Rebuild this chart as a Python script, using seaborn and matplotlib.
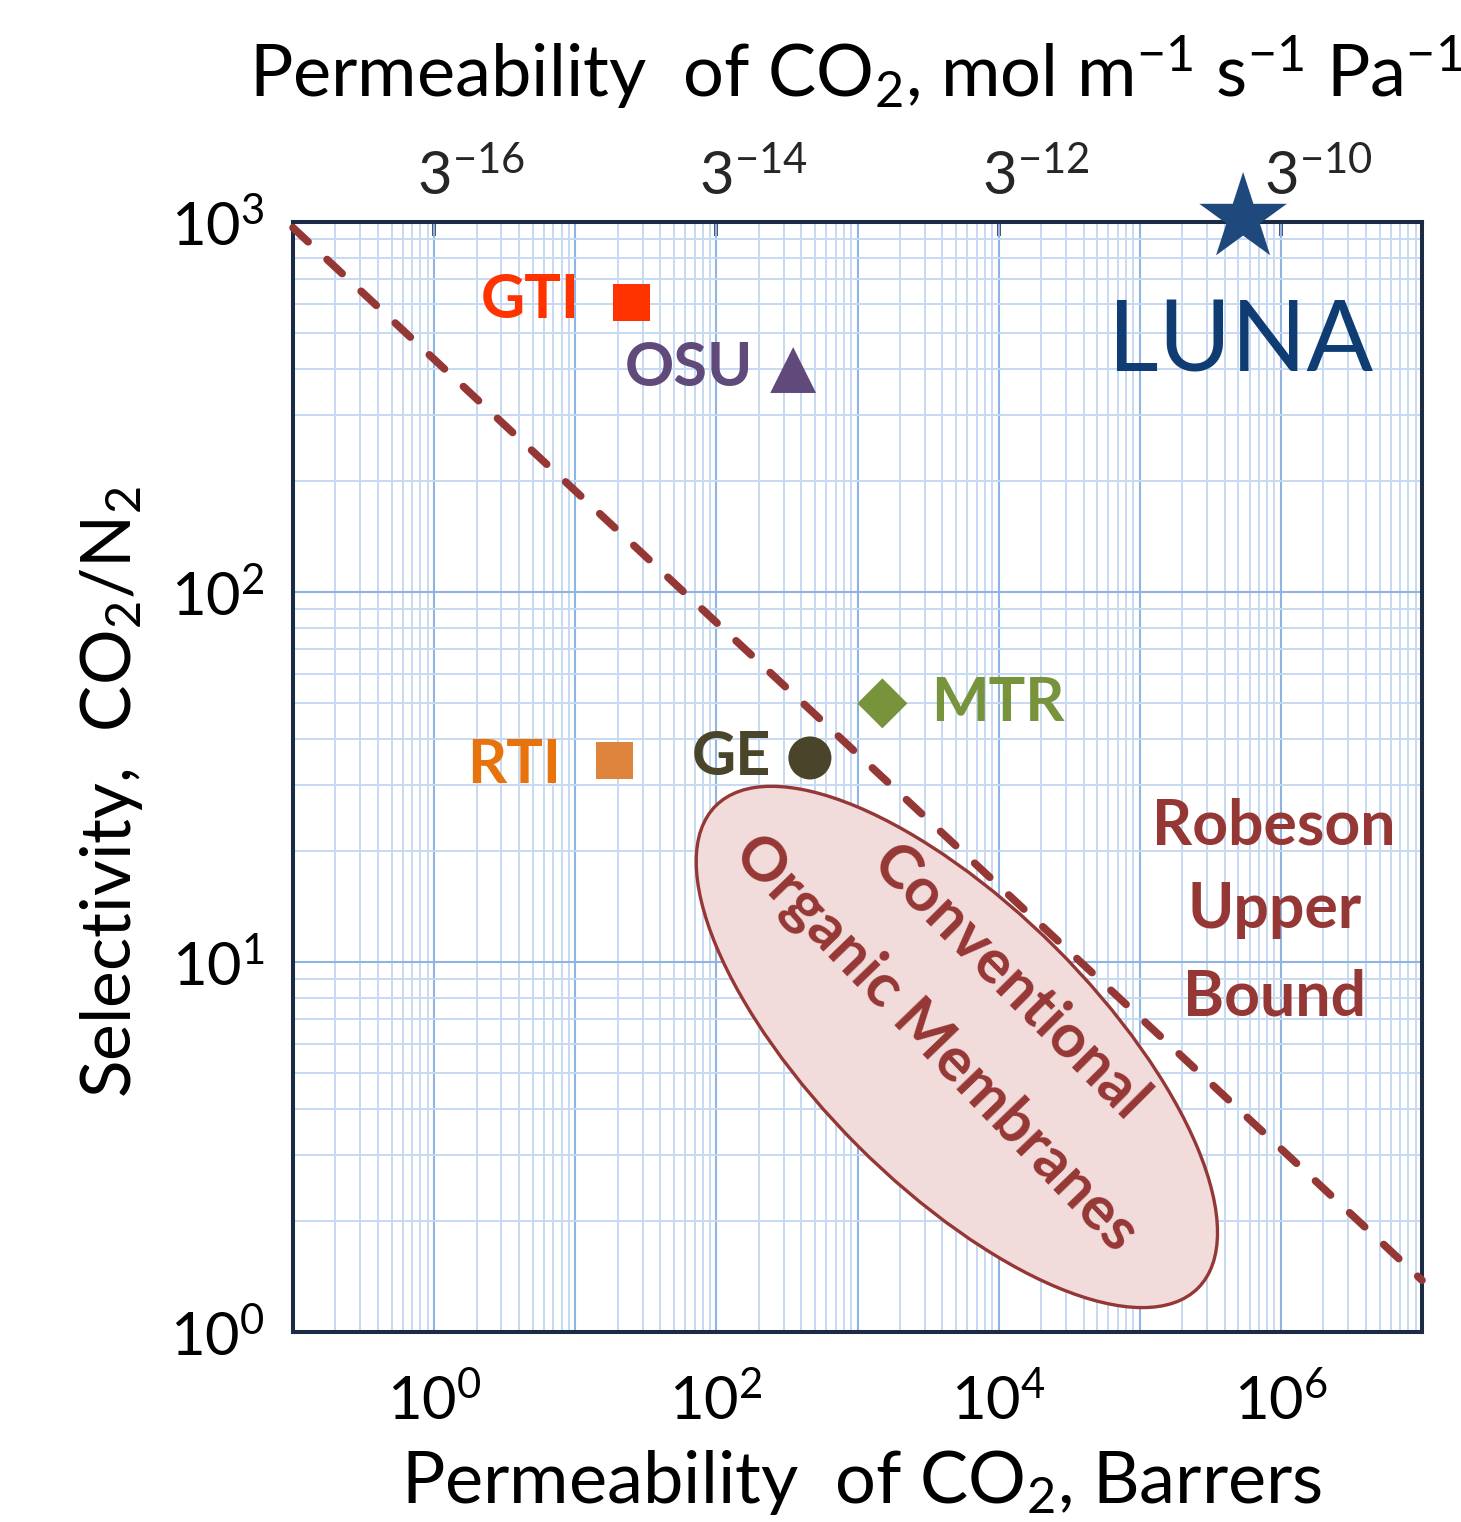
import matplotlib

matplotlib.use("Agg")
import matplotlib.pyplot as plt
import matplotlib.ticker as mticker
import matplotlib.transforms as mtransforms
import pandas as pd
import seaborn as sns
from matplotlib.patches import Ellipse

# membrane data points (CO2 permeability in Barrers, CO2/N2 selectivity)
groups = ["GTI", "OSU", "MTR", "RTI", "GE", "LUNA"]
perm_barrer = [25, 350, 1500, 19, 460, 5.4e5]
selectivity = [605, 398, 50, 35, 35.6, 1025]

# Robeson upper bound, end points of the dashed line
robeson_perm = [0.1, 1e7]
robeson_sel = [965, 1.38]

bottom_ticks = [1e-1, 1e0, 1e1, 1e2, 1e3, 1e4, 1e5, 1e6, 1e7]
bottom_labels = ["", "$10^{0}$", "", "$10^{2}$", "", "$10^{4}$", "", "$10^{6}$", ""]
top_ticks = [1e0, 1e2, 1e4, 1e6]
top_labels = ["3$^{-16}$", "3$^{-14}$", "3$^{-12}$", "3$^{-10}$"]
left_ticks = [1, 10, 100, 1000]
left_labels = ["$10^{0}$", "$10^{1}$", "$10^{2}$", "$10^{3}$"]

marker_colors = {"GTI": "#FF3300", "OSU": "#604A7B", "MTR": "#77933C",
                 "RTI": "#DE843C", "GE": "#4A452A", "LUNA": "#1F497D"}
text_colors = {"GTI": "#FF3300", "OSU": "#604A7B", "MTR": "#77933C",
               "RTI": "#E8720C", "GE": "#4A452A"}
marker_shapes = {"GTI": "s", "OSU": "^", "MTR": "D", "RTI": "s", "GE": "o", "LUNA": "*"}
marker_sizes = {"GTI": 710, "OSU": 1090, "MTR": 650, "RTI": 710, "GE": 960, "LUNA": 4400}
# label offsets from the marker centre, in pixels (dx, dy, ha)
label_offsets = {"GTI": (-52, 3, "right"), "OSU": (-40, 2, "right"), "MTR": (49, 0, "left"),
                 "RTI": (-53, -4, "right"), "GE": (-39, 1, "right")}

ROB = "#953735"
NAVY = "#1C2B45"

sns.set_theme(style="white")
plt.rcParams["font.family"] = ["Lato", "DejaVu Sans"]
plt.rcParams["mathtext.fontset"] = "custom"
plt.rcParams["mathtext.rm"] = "Lato"
plt.rcParams["mathtext.default"] = "regular"

df = pd.DataFrame({"group": groups, "perm": perm_barrer, "sel": selectivity})

fig = plt.figure(figsize=(14.61, 15.22), dpi=100)
ax = fig.add_axes([293 / 1461, 190 / 1522, 1129 / 1461, 1110 / 1522])
ax.set_xscale("log")
ax.set_yscale("log")

# conventional membranes region
ell_pos = mtransforms.ScaledTranslation(0.588, 0.2568, ax.transAxes)
region = Ellipse((0, 0), 6.82, 2.80, angle=-45, transform=fig.dpi_scale_trans + ell_pos,
                 facecolor="#F2DCDB", edgecolor=ROB, lw=2.4, zorder=2)
ax.add_patch(region)
ax.text(0.635, 0.3144, "Conventional", transform=ax.transAxes, rotation=-45,
        rotation_mode="anchor", ha="center", va="center", fontsize=44,
        fontweight="bold", color=ROB, zorder=3)
ax.text(0.5695, 0.2604, "Organic Membranes", transform=ax.transAxes, rotation=-46,
        rotation_mode="anchor", ha="center", va="center", fontsize=44,
        fontweight="bold", color=ROB, zorder=3)

ax.plot(robeson_perm, robeson_sel, color=ROB, lw=5.5, ls=(0, (2.7, 3.4)), zorder=4,
        dash_capstyle="round", clip_on=False)

sns.scatterplot(data=df, x="perm", y="sel", hue="group", style="group", size="group",
                palette=marker_colors, markers=marker_shapes, sizes=marker_sizes,
                linewidth=0, legend=False, ax=ax, zorder=5, clip_on=False)
ax.set_xlabel("")
ax.set_ylabel("")
ax.set_xlim(0.102, 1e7)
ax.set_ylim(1, 1000)

for name, x, y in zip(groups, perm_barrer, selectivity):
    if name not in label_offsets:
        continue
    dx, dy, ha = label_offsets[name]
    ax.annotate(name, (x, y), xytext=(dx, dy), textcoords="offset pixels", ha=ha,
                va="center", fontsize=44, fontweight="bold", color=text_colors[name], zorder=6)

for frac, word in zip([0.4396, 0.364, 0.2847], ["Robeson", "Upper", "Bound"]):
    ax.text(0.869, frac, word, transform=ax.transAxes, ha="center", va="baseline",
            fontsize=45, fontweight="bold", color=ROB)

ax.text(0.8397, 0.8649, "LUNA", transform=ax.transAxes, ha="center", va="baseline",
        fontsize=71, fontweight="normal", color="#0F3D73")

ax.set_axisbelow(True)
ax.xaxis.set_minor_locator(mticker.LogLocator(base=10, subs=range(2, 10), numticks=100))
ax.yaxis.set_minor_locator(mticker.LogLocator(base=10, subs=range(2, 10), numticks=100))
ax.grid(True, which="major", color="#8DB4E2", lw=1.5)
ax.grid(True, which="minor", color="#C6D9F1", lw=1.4)

for side in ["left", "right", "top", "bottom"]:
    ax.spines[side].set_color(NAVY)
    ax.spines[side].set_linewidth(2.9)

ax.set_xticks(bottom_ticks, bottom_labels)
ax.set_yticks(left_ticks, left_labels)
ax.tick_params(which="major", direction="in", length=10, width=2.6, color=NAVY,
               labelsize=43, labelcolor="black", top=False, right=False)
ax.tick_params(axis="x", pad=29)
ax.tick_params(axis="y", pad=20)
ax.tick_params(which="minor", length=0)

top = ax.secondary_xaxis("top")
top.set_xticks(top_ticks, top_labels)
top.tick_params(direction="in", length=10, width=2.6, color=NAVY, labelsize=43, pad=12)
top.spines["top"].set_visible(False)
shift = mtransforms.ScaledTranslation(-17 / 100, 0, fig.dpi_scale_trans)
for lbl in top.get_xticklabels():
    lbl.set_horizontalalignment("left")
    lbl.set_transform(lbl.get_transform() + shift)
top.minorticks_off()

fig.text(856 / 1461, 1 - 97 / 1522, "Permeability  of CO$_2$, mol m$^{-1}$ s$^{-1}$ Pa$^{-1}$",
         ha="center", va="baseline", fontsize=52, color="black")
fig.text(862 / 1461, 1 - 1503 / 1522, "Permeability  of CO$_2$, Barrers",
         ha="center", va="baseline", fontsize=52, color="black")
fig.text(131 / 1461, 1 - 792 / 1522, "Selectivity,  CO$_2$/N$_2$", rotation=90,
         ha="center", va="baseline", rotation_mode="anchor", fontsize=50, color="black")

fig.savefig("out.png", dpi=100, facecolor="white")
